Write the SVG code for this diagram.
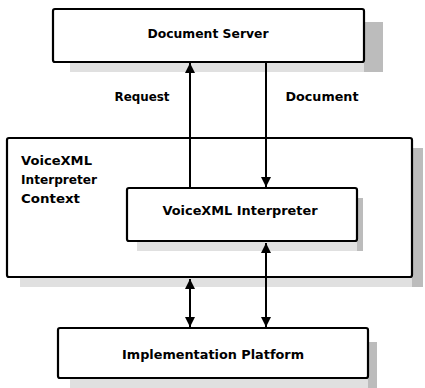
<svg xmlns="http://www.w3.org/2000/svg" width="425" height="388" viewBox="0 0 425 388">
<style>
.box{fill:#fff;stroke:#000;stroke-width:2.2}
.sr{fill:#bcbcbc}
.sb{fill:#e0e0e0}
.t{font-family:"DejaVu Sans","Liberation Sans",sans-serif;font-weight:bold;font-size:12px;fill:#000}
.c{stroke:#000;stroke-width:2;fill:none}
</style>
<defs>
<marker id="ah" viewBox="0 0 10 10" refX="10" refY="5" markerWidth="5.5" markerHeight="5" orient="auto-start-reverse" markerUnits="strokeWidth">
<path d="M0,0 L10,5 L0,10 z" fill="#000"/>
</marker>
</defs>
<rect width="425" height="388" fill="#fff"/>
<g id="context">
<rect class="sb" x="20" y="277" width="403" height="10"/>
<rect class="sr" x="412" y="148" width="11" height="139"/>
<rect class="box" x="7" y="138" width="405" height="139" rx="2"/>
<text class="t" x="21" y="165" textLength="71" lengthAdjust="spacingAndGlyphs">VoiceXML</text>
<text class="t" x="21" y="184" textLength="76" lengthAdjust="spacingAndGlyphs">Interpreter</text>
<text class="t" x="21" y="203" textLength="59" lengthAdjust="spacingAndGlyphs">Context</text>
</g>
<g id="server">
<rect class="sb" x="70" y="62" width="313" height="10"/>
<rect class="sr" x="364" y="22" width="19" height="50"/>
<rect class="box" x="53" y="9" width="311" height="53" rx="2"/>
<text class="t" x="208" y="38" text-anchor="middle" textLength="121" lengthAdjust="spacingAndGlyphs">Document Server</text>
</g>
<g id="interpreter">
<rect class="sb" x="137" y="241" width="226" height="10"/>
<rect class="sr" x="357" y="198" width="6" height="53"/>
<rect class="box" x="127" y="188" width="230" height="53" rx="2"/>
<text class="t" x="240" y="215" text-anchor="middle" textLength="155" lengthAdjust="spacingAndGlyphs">VoiceXML Interpreter</text>
</g>
<g id="platform">
<rect class="sb" x="70" y="378" width="307" height="10"/>
<rect class="sr" x="368" y="342" width="9" height="46"/>
<rect class="box" x="58" y="328" width="310" height="50" rx="2"/>
<text class="t" x="213" y="359" text-anchor="middle" textLength="182" lengthAdjust="spacingAndGlyphs">Implementation Platform</text>
</g>
<g id="connectors">
<line class="c" x1="190" y1="188" x2="190" y2="63" marker-end="url(#ah)"/>
<line class="c" x1="266" y1="62" x2="266" y2="187" marker-end="url(#ah)"/>
<line class="c" x1="190" y1="279" x2="190" y2="327" marker-start="url(#ah)" marker-end="url(#ah)"/>
<line class="c" x1="266" y1="243" x2="266" y2="327" marker-start="url(#ah)" marker-end="url(#ah)"/>
<text class="t" x="142" y="101" text-anchor="middle" textLength="55" lengthAdjust="spacingAndGlyphs">Request</text>
<text class="t" x="322" y="101" text-anchor="middle" textLength="73" lengthAdjust="spacingAndGlyphs">Document</text>
</g>
</svg>
